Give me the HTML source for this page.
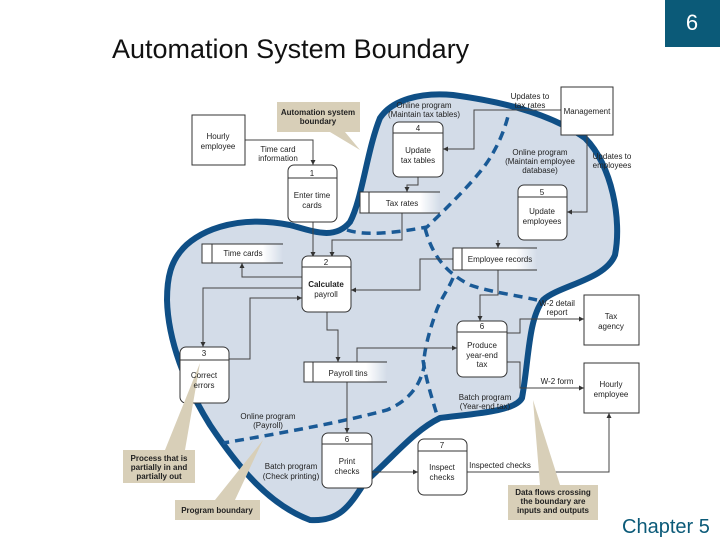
<!DOCTYPE html>
<html><head><meta charset="utf-8"><style>
body{margin:0;background:#fff;width:720px;height:540px;overflow:hidden;position:relative;font-family:"Liberation Sans",sans-serif}
</style></head><body>
<svg width="720" height="540" viewBox="0 0 720 540" xmlns="http://www.w3.org/2000/svg" style="position:absolute;left:0;top:0" font-family="Liberation Sans, sans-serif">
<defs><marker id="a" markerWidth="6" markerHeight="6" refX="5" refY="3" orient="auto"><path d="M0,0.5 L5,3 L0,5.5z" fill="#333"/></marker>
<linearGradient id="sg" x1="0" x2="1"><stop offset="0.75" stop-color="#fff"/><stop offset="1" stop-color="#fff" stop-opacity="0"/></linearGradient></defs>
<rect x="665" y="0" width="55" height="47" fill="#0b5a78"/>
<text x="692" y="30" font-size="22" fill="#fff" text-anchor="middle">6</text>
<text x="112" y="58" font-size="27" fill="#111">Automation System Boundary</text>
<text x="622" y="533" font-size="20" fill="#0b5a78">Chapter 5</text>
<!-- blob -->
<path d="M180,252 C195,232 235,214 290,225 C315,232 335,240 350,222 C362,200 367,150 380,118 C392,100 420,92 453,95 C490,100 545,110 585,138 C612,165 622,220 615,255 C605,280 560,285 543,300 C528,320 529,360 522,398 C515,412 470,414 440,418 C415,430 395,455 365,482 C350,505 340,522 310,520 C270,505 240,470 210,425 C185,385 168,340 167,300 C167,275 172,262 180,252Z" fill="#d3dce8" stroke="#0f4f86" stroke-width="6"/>
<g fill="none" stroke="#1a5a96" stroke-width="3.5" stroke-dasharray="9,6">
<path d="M347,230 C365,236 395,233 427,227 C450,205 480,175 490,158 C498,145 505,130 509,112"/>
<path d="M425,228 C432,255 445,272 470,285 C490,292 515,295 537,300"/>
<path d="M453,278 C448,290 440,300 436,312 C428,335 423,355 424,367 C420,385 410,400 387,410 C350,420 300,430 223,443"/>
<path d="M423,360 C426,380 432,398 437,415"/>
</g>
<g fill="none" stroke="#444" stroke-width="1" marker-end="url(#a)">
<path d="M245,140 H313 V165"/>
<path d="M313,222 V257"/>
<path d="M418,177 V185 H407 V192"/>
<path d="M402,213 V240 H332 V257"/>
<path d="M561,110 H474 V149 H443"/>
<path d="M587,135 V212 H567"/>
<path d="M498,240 V248"/>
<path d="M498,270 V295 H480 V321"/>
<path d="M453,259 H420 V290 H351"/>
<path d="M302,277 H242 V263"/>
<path d="M302,288 H203 V347"/>
<path d="M229,359 H250 V298 H302"/>
<path d="M327,312 V330 H338 V362"/>
<path d="M357,362 V348 H457"/>
<path d="M507,333 H520 V319 H584"/>
<path d="M507,362 H520 V388 H584"/>
<path d="M347,382 V433"/>
<path d="M372,472 H418"/>
<path d="M467,472 H609 V413"/>
</g>
<g fill="#fff" stroke="#333" stroke-width="1">
<rect x="192" y="115" width="53" height="50"/>
<rect x="561" y="87" width="52" height="48"/>
<rect x="584" y="295" width="55" height="50"/>
<rect x="584" y="363" width="55" height="50"/>
<rect x="288" y="165" width="49" height="57" rx="6"/>
<rect x="393" y="122" width="50" height="55" rx="6"/>
<rect x="518" y="185" width="49" height="55" rx="6"/>
<rect x="302" y="256" width="49" height="56" rx="6"/>
<rect x="180" y="347" width="49" height="56" rx="6"/>
<rect x="457" y="321" width="50" height="56" rx="6"/>
<rect x="322" y="433" width="50" height="55" rx="6"/>
<rect x="418" y="439" width="49" height="56" rx="6"/>
</g>
<g stroke="#333" stroke-width="1">
<line x1="288" y1="178" x2="337" y2="178"/><line x1="393" y1="133" x2="443" y2="133"/>
<line x1="518" y1="197" x2="567" y2="197"/><line x1="302" y1="267" x2="351" y2="267"/>
<line x1="180" y1="360" x2="229" y2="360"/><line x1="457" y1="332" x2="507" y2="332"/>
<line x1="322" y1="444" x2="372" y2="444"/><line x1="418" y1="451" x2="467" y2="451"/>
</g>
<!-- stores -->
<g stroke="#333" stroke-width="1" fill="url(#sg)">
<path d="M440,192 H360 V213 H440"/><line x1="369" y1="192" x2="369" y2="213"/>
<path d="M283,244 H202 V263 H283"/><line x1="212" y1="244" x2="212" y2="263"/>
<path d="M537,248 H453 V270 H537"/><line x1="462" y1="248" x2="462" y2="270"/>
<path d="M387,362 H304 V382 H387"/><line x1="313" y1="362" x2="313" y2="382"/>
</g>
<!-- callouts -->
<g fill="#d8cfb8">
<path d="M277,102 H360 V132 H345 L360,150 L330,132 H277Z"/>
<path d="M123,450 H195 V483 H123Z M165,450 L200,363 L185,450Z"/>
<path d="M175,500 H260 V520 H175Z M215,500 L263,440 L235,500Z"/>
<path d="M508,485 H598 V520 H508Z M540,485 L533,400 L560,485Z"/>
</g>
<g font-size="8" fill="#222" text-anchor="middle">
<text x="318" y="115" font-weight="bold">Automation system</text><text x="318" y="124" font-weight="bold">boundary</text>
<text x="159" y="461" font-weight="bold">Process that is</text><text x="159" y="470" font-weight="bold">partially in and</text><text x="159" y="479" font-weight="bold">partially out</text>
<text x="217" y="513" font-weight="bold">Program boundary</text>
<text x="553" y="495" font-weight="bold">Data flows crossing</text><text x="553" y="504" font-weight="bold">the boundary are</text><text x="553" y="513" font-weight="bold">inputs and outputs</text>
<text x="218" y="139">Hourly</text><text x="218" y="149">employee</text>
<text x="587" y="114">Management</text>
<text x="611" y="319">Tax</text><text x="611" y="329">agency</text>
<text x="611" y="387">Hourly</text><text x="611" y="397">employee</text>
<text x="278" y="152">Time card</text><text x="278" y="161">information</text>
<text x="312" y="176">1</text><text x="312" y="198">Enter time</text><text x="312" y="208">cards</text>
<text x="418" y="131">4</text><text x="418" y="153">Update</text><text x="418" y="163">tax tables</text>
<text x="424" y="108">Online program</text><text x="424" y="117">(Maintain tax tables)</text>
<text x="530" y="99">Updates to</text><text x="530" y="108">tax rates</text>
<text x="612" y="159">Updates to</text><text x="612" y="168">employees</text>
<text x="540" y="155">Online program</text><text x="540" y="164">(Maintain employee</text><text x="540" y="173">database)</text>
<text x="542" y="195">5</text><text x="542" y="214">Update</text><text x="542" y="224">employees</text>
<text x="402" y="206">Tax rates</text>
<text x="243" y="256">Time cards</text>
<text x="500" y="262">Employee records</text>
<text x="326" y="265">2</text><text x="326" y="287" font-weight="bold">Calculate</text><text x="326" y="297">payroll</text>
<text x="204" y="356">3</text><text x="204" y="378">Correct</text><text x="204" y="388">errors</text>
<text x="482" y="329">6</text><text x="482" y="348">Produce</text><text x="482" y="358">year-end</text><text x="482" y="367">tax</text>
<text x="348" y="376">Payroll tins</text>
<text x="557" y="306">W-2 detail</text><text x="557" y="315">report</text>
<text x="557" y="384">W-2 form</text>
<text x="485" y="400">Batch program</text><text x="485" y="409">(Year-end tax)</text>
<text x="268" y="419">Online program</text><text x="268" y="428">(Payroll)</text>
<text x="347" y="442">6</text><text x="347" y="464">Print</text><text x="347" y="474">checks</text>
<text x="291" y="469">Batch program</text><text x="291" y="479">(Check printing)</text>
<text x="442" y="448">7</text><text x="442" y="470">Inspect</text><text x="442" y="480">checks</text>
<text x="500" y="468">Inspected checks</text>
</g>
</svg>
</body></html>
